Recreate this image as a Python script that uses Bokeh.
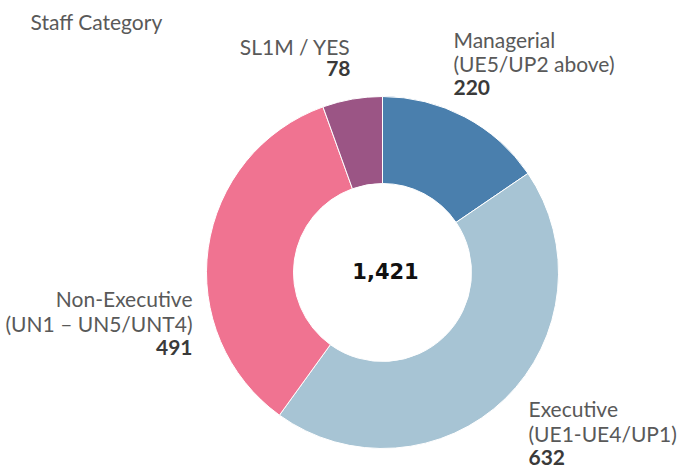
import numpy as np
from bokeh.plotting import figure
from bokeh.models import Range1d, ColumnDataSource
from bokeh.core.properties import value
from bokeh.embed import file_html
from bokeh.resources import INLINE

categories = ["Managerial", "Executive", "Non-Executive", "SL1M / YES"]
sublabels = ["(UE5/UP2 above)", "(UE1-UE4/UP1)", "(UN1 – UN5/UNT4)", ""]
counts = [220, 632, 491, 78]
colors = ["#4a7fad", "#a7c4d4", "#f07391", "#9b5585"]
title = "Staff Category"

W, H = 680, 468
p = figure(width=W, height=H, output_backend="svg", toolbar_location=None,
           x_range=Range1d(0, W), y_range=Range1d(0, H), min_border=0)
p.axis.visible = False
p.grid.visible = False
p.outline_line_color = None

def X(px):
    return px

def Y(py):
    return H - py

total = sum(counts)
frac = np.array(counts) / total
ends_cum = np.cumsum(frac)
starts_cum = ends_cum - frac
start_ang = np.pi / 2 - 2 * np.pi * starts_cum
end_ang = np.pi / 2 - 2 * np.pi * ends_cum

cx, cy = X(382), Y(272)
src = ColumnDataSource(dict(start=start_ang, end=end_ang, color=colors))
p.annular_wedge(x=cx, y=cy, inner_radius=89, outer_radius=176,
                start_angle="start", end_angle="end", direction="clock",
                fill_color="color", line_color="white", line_width=1, source=src)

FONT = value("Lato")
label_col = "#595959"
num_col = "#3a3a3a"
fs = "21px"
DY = 7

def txt(x, y, t, align, bold=False, color=label_col, font=FONT, size=fs):
    p.text(x=[X(x)], y=[Y(y - DY)], text=[t], text_align=align, text_baseline="alphabetic",
           text_font=font, text_font_size=size, text_color=color,
           text_font_style="bold" if bold else "normal")

txt(30, 28, title, "left")

# Managerial (right of top)
txt(453, 46, categories[0], "left")
txt(453, 70, sublabels[0], "left")
txt(453, 94, f"{counts[0]:,}", "left", bold=True, color=num_col)

# Executive (bottom right)
txt(528, 415, categories[1], "left")
txt(528, 440, sublabels[1], "left")
txt(528, 464, f"{counts[1]:,}", "left", bold=True, color=num_col)

# Non-Executive (left)
txt(192, 305, categories[2], "right")
txt(192, 330, sublabels[2], "right")
txt(192, 354, f"{counts[2]:,}", "right", bold=True, color=num_col)

# SL1M / YES (top)
txt(350, 53, categories[3], "right")
txt(350, 75, f"{counts[3]:,}", "right", bold=True, color=num_col)

# Center total
txt(385, 277, f"{total:,}", "center", bold=True, color="#111111",
    font=value("DejaVu Sans"), size="21px")

open("out.html", "w").write(file_html(p, INLINE))
